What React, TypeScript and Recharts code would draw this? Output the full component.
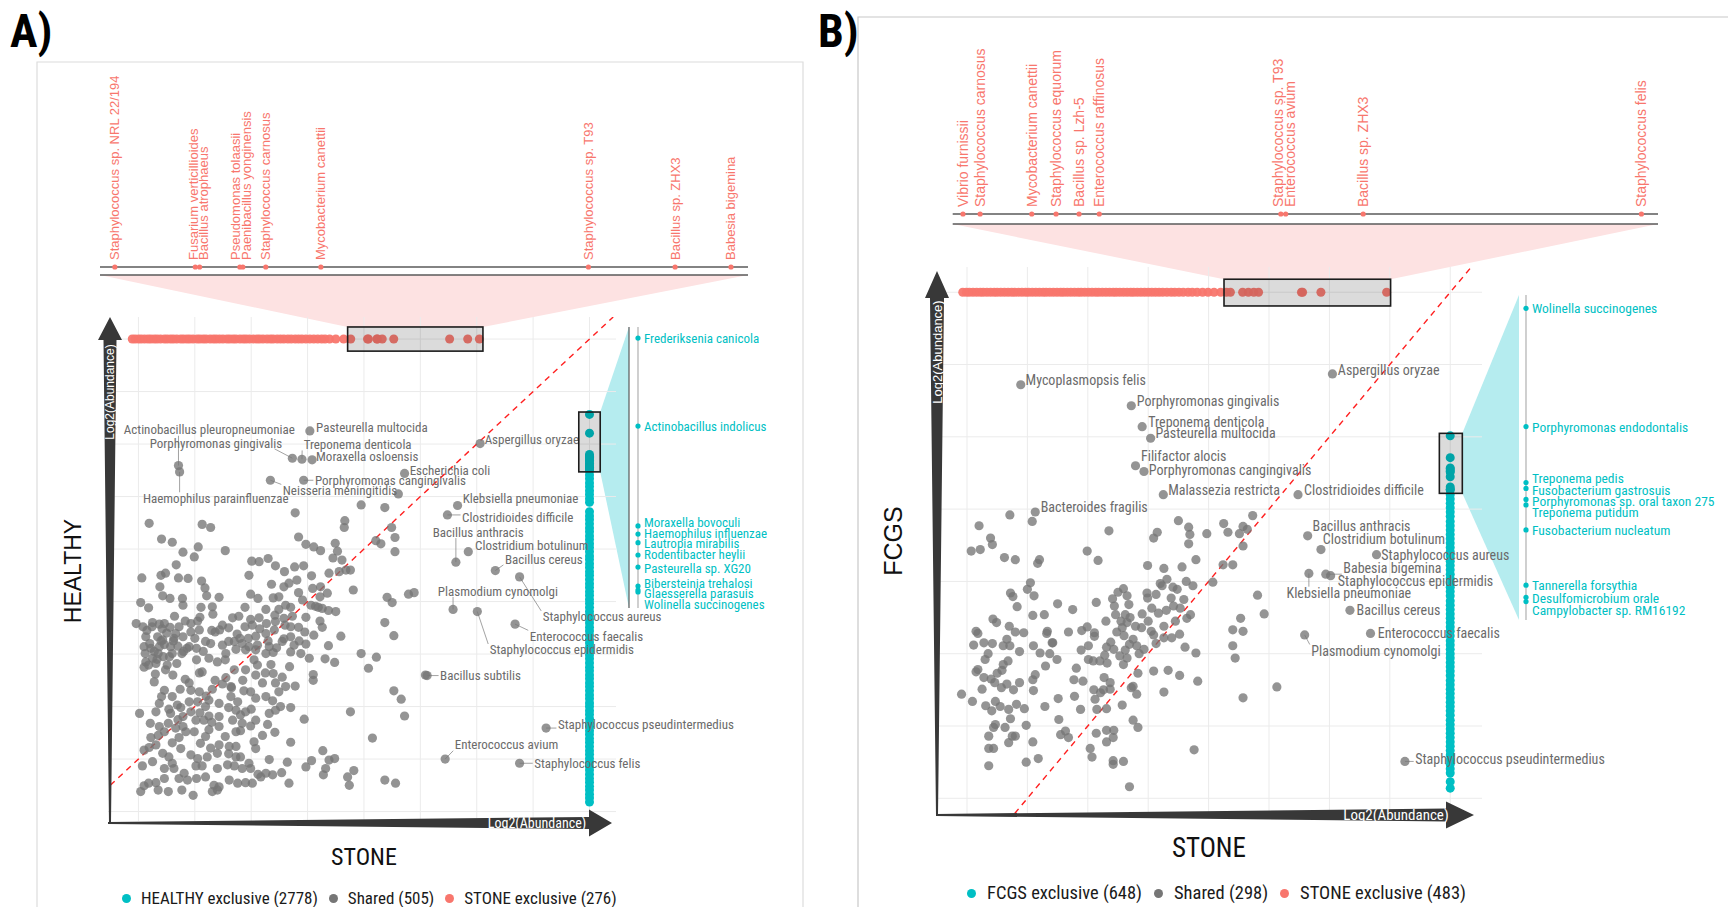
import React from "react";
import {
  ScatterChart,
  Scatter,
  XAxis,
  YAxis,
  CartesianGrid,
  ReferenceLine,
  Legend,
} from "recharts";

const CYAN = "#00BFC4";
const RED = "#F8766D";
const GREY = "#767676";
const NARROW = "'Liberation Sans Narrow', 'Arial Narrow', 'Roboto Condensed', sans-serif";
const SANS = "'Liberation Sans', Arial, Helvetica, sans-serif";

type Pt = [number, number];
type Tag = { name: string; v: number };
type Note = { name: string; x: number; y: number };

// ---------------- Panel A : HEALTHY vs STONE (log2 abundance) ----------------

const gridXA = [1, 2, 3, 4, 5, 6, 7, 8, 9];
const gridYA = [1, 2, 3, 4, 5, 6, 7, 8, 9, 10];
const stoneRowLevelA = 10; // STONE-exclusive taxa sit on the top row
const healthyColLevelA = 9; // HEALTHY-exclusive taxa sit in the right column
const diagA: Pt[] = [[0.5, 1.5], [9.42, 10.42]];

const sharedA: Pt[] = [
  [5.61,7.05],[4.95,6.84],[5.37,6.79],[3.78,6.69],[1.19,6.49],[2.13,6.47],[2.28,6.41],[4.66,6.54],[4.65,6.41],[5.49,6.41],[5.55,6.22],
  [1.41,6.19],[1.6,6.13],[2.06,6.04],[3.84,6.23],[3.97,6.09],[4.11,6.04],[4.23,5.97],[4.49,6.11],[4.53,5.96],[5.21,6.16],[5.3,6.1],[5.55,5.95],[2.54,5.97],[1.79,5.94],[1.99,5.85],
  [3.01,5.77],[3.14,5.76],[3.3,5.82],[3.43,5.68],[3.59,5.57],[3.77,5.66],[3.93,5.68],[1.67,5.7],[4.45,5.83],[4.61,5.79],[4.68,5.6],[4.56,5.57],[4.76,5.6],[4.38,5.54],[2.96,5.5],[1.4,5.5],[1.48,5.54],[1.06,5.45],[1.71,5.45],[1.88,5.44],[4.07,5.49],
  [2.12,5.39],[2.18,5.26],[2.21,5.11],[2.43,5.08],[1.38,5.28],[1.43,5.11],[1.56,5.06],[1.78,5.06],[3.36,5.33],[3.58,5.28],[3.67,5.35],[3.81,5.41],[3.84,5.17],[4.09,5.25],[4.23,5.28],[4.81,5.22],[4.35,5.16],[4.22,5.09],[5.41,5.08],[5.5,4.98],[5.79,5.14],[5.89,5.17],[2.99,5.14],[3.12,5.06],[3.39,5.07],[3.49,5.09],
  [1.04,4.98],[1.18,4.88],[1.79,4.93],[2.11,4.89],[2.31,4.9],[2.32,4.76],[2.89,4.89],[3.26,4.85],[3.49,4.85],[3.61,4.93],[3.7,4.89],[3.91,5.03],[4.06,4.93],[4.14,4.91],[4.19,4.89],[4.26,4.87],[4.37,4.83],[4.5,4.81],[1.64,4.72],[1.83,4.63],[1.93,4.58],[2.05,4.63],[2.09,4.7],[2.67,4.69],[2.78,4.72],[2.99,4.66],[3.14,4.69],[3.42,4.74],[3.58,4.68],[3.73,4.72],[3.97,4.7],[4.22,4.63],[0.96,4.58],[1.08,4.52],[1.24,4.52],[1.37,4.57],[1.46,4.58],[1.56,4.51],[1.72,4.52],
  [2.44,4.46],[2.36,4.42],[2.49,4.55],[2.89,4.52],[3.02,4.55],[3.27,4.58],[3.43,4.62],[3.7,4.52],[3.84,4.51],[4.11,4.36],[4.26,4.51],[4.59,4.34],[5.37,4.6],[5.53,4.35],[1.13,4.33],[1.34,4.33],[1.43,4.27],[1.66,4.39],[1.63,4.3],[1.79,4.33],[1.93,4.42],[2.08,4.46],[2.6,4.24],[2.7,4.24],[2.8,4.3],[3.08,4.34],[3.26,4.39],[3.41,4.46],[3.58,4.29],[3.7,4.33],[3.76,4.17],[1.1,4.14],[1.22,4.11],[1.37,4.14],[1.46,4.18],[1.57,4.14],[1.9,4.14],[2.03,4.11],[2.19,4.24],[2.28,4.2],[2.49,4.17],[2.84,4.2],[2.96,4.14],[3.11,4.17],[3.32,4.14],[3.55,4.24],[3.97,4.19],[4.37,4.16],
  [1.12,4.01],[1.25,3.92],[1.35,4.01],[1.44,3.95],[1.31,3.82],[1.6,4.01],[1.77,4.01],[1.86,4.11],[2.55,4.01],[2.73,4.09],[2.9,4.08],[3.08,4.08],[3.26,4.01],[3.39,4.03],[3.7,4.04],[3.88,4.01],[4.03,3.92],[4.31,3.91],[4.48,3.84],[4.95,4.01],[5.22,3.94],[5.08,3.73],[1.13,3.85],[1.18,3.79],[1.51,3.79],[2.03,3.89],[2.25,3.92],[2.54,3.89],[3.05,3.89],[3.11,3.79],[3.68,3.76],[2.9,3.7],[2.7,3.7],[6.09,3.6],
  [1.61,3.6],[1.28,3.47],[1.83,3.52],[2.08,3.64],[2.13,3.66],[2.36,3.5],[2.49,3.43],[2.65,3.36],[3.08,3.6],[3.25,3.64],[3.39,3.63],[3.55,3.56],[3.61,3.38],[3.78,3.39],[4.1,3.61],[4.1,3.5],[1.46,3.31],[1.74,3.33],[1.93,3.31],[2.08,3.28],[2.31,3.33],[2.64,3.38],[2.87,3.3],[2.99,3.28],[3.49,3.28],[5.53,3.3],[5.66,3.14],[3.43,3.45],
  [1.41,3.19],[1.37,3.06],[1.6,3.19],[1.69,3.03],[1.75,2.98],[1.54,2.95],[1.9,3.09],[2.05,3.09],[2.19,3.0],[2.25,3.12],[2.43,3.06],[2.64,3.19],[2.76,3.09],[2.9,2.9],[3.08,3.16],[3.26,3.19],[3.38,3.11],[3.52,3.0],[3.7,2.98],[1.02,2.87],[1.31,2.9],[1.57,2.87],[1.79,2.81],[1.93,2.9],[2.09,2.88],[2.25,2.82],[2.43,2.81],[2.73,2.93],[2.81,2.84],[3.32,2.87],[3.43,2.93],[3.94,2.76],[4.76,2.9],[5.72,2.82],
  [1.21,2.68],[1.37,2.62],[1.53,2.68],[1.79,2.62],[2.02,2.74],[2.16,2.74],[2.25,2.56],[2.43,2.62],[2.67,2.74],[2.84,2.68],[2.99,2.63],[3.08,2.74],[3.29,2.66],[1.22,2.41],[1.46,2.52],[1.66,2.59],[1.84,2.52],[1.6,2.31],[1.72,2.41],[1.99,2.52],[2.19,2.43],[2.54,2.43],[2.73,2.52],[2.81,2.54],[3.42,2.51],[5.15,2.4],[3.7,2.32],
  [1.1,2.17],[1.19,2.22],[1.31,2.27],[2.28,2.21],[2.43,2.27],[2.61,2.24],[2.73,2.24],[3.05,2.33],[3.08,2.2],[1.43,2.11],[1.54,2.04],[1.6,1.92],[1.93,2.08],[2.05,2.01],[2.22,2.04],[2.4,2.11],[2.73,2.04],[2.81,2.04],[2.96,1.92],[3.32,1.99],[3.64,1.94],[4.07,1.97],[4.27,2.16],[4.38,1.98],[4.48,2.01],[1.07,1.87],[1.25,1.95],
  [1.46,1.82],[1.63,1.82],[1.81,1.73],[2.02,1.87],[2.13,1.87],[2.4,1.82],[2.58,1.89],[2.7,1.87],[2.84,1.82],[2.99,1.82],[3.12,1.71],[3.26,1.73],[3.38,1.7],[3.54,1.74],[3.97,1.85],[4.28,1.7],[4.32,1.82],[4.71,1.66],[4.82,1.78],[5.37,1.6],[5.56,1.54],[4.74,1.5],[3.67,1.54],[1.1,1.49],[1.31,1.55],[1.18,1.54],[1.46,1.63],[1.72,1.63],[1.87,1.6],[2.03,1.63],[2.19,1.66],[2.34,1.5],[2.43,1.47],[2.61,1.6],[2.76,1.54],[2.9,1.55],[3.02,1.54],[3.17,1.66],[1.04,1.38],[1.35,1.41],[1.53,1.38],[1.77,1.41],[1.97,1.31],[2.31,1.38],[2.4,1.41],
  [1.15,4.45],[1.2,4.2],[1.28,4.05],[1.33,3.9],[1.4,4.25],[1.5,4.4],[1.55,3.95],[1.62,4.25],[1.7,4.15],[1.25,4.6],[1.42,4.48],[1.1,3.75],[1.3,3.62],[1.48,3.7],[1.68,3.82],[1.8,4.05],[2.0,4.3],[2.15,4.05],[2.3,4.45],[2.6,4.5],[2.75,4.38],[2.95,4.3],[3.15,4.48],[3.3,4.25],[3.45,4.12],[3.6,4.55],[3.85,4.25],[3.95,4.42],[2.4,3.85],[2.55,3.55],[2.85,3.5],[3.2,3.45],[3.35,3.8],[1.9,3.45],[2.2,3.2],[2.6,2.98],[3.0,2.95],[1.7,2.75],[2.3,2.7],[1.35,2.45],[2.1,2.3],[2.6,2.1],[1.75,2.2],[3.2,2.45],
];

const notesA: Note[] = [
  { name: "Actinobacillus pleuropneumoniae", x: 1.71, y: 7.59 },
  { name: "Haemophilus parainfluenzae", x: 1.73, y: 7.47 },
  { name: "Porphyromonas gingivalis", x: 3.73, y: 7.73 },
  { name: "Treponema denticola", x: 3.9, y: 7.71 },
  { name: "Moraxella osloensis", x: 4.08, y: 7.7 },
  { name: "Pasteurella multocida", x: 4.04, y: 8.25 },
  { name: "Porphyromonas cangingivalis", x: 3.93, y: 7.31 },
  { name: "Neisseria meningitidis", x: 3.34, y: 7.31 },
  { name: "Escherichia coli", x: 5.72, y: 7.44 },
  { name: "Aspergillus oryzae", x: 7.06, y: 8.01 },
  { name: "Klebsiella pneumoniae", x: 6.66, y: 6.83 },
  { name: "Clostridioides difficile", x: 6.48, y: 6.65 },
  { name: "Bacillus anthracis", x: 6.63, y: 5.75 },
  { name: "Clostridium botulinum", x: 6.85, y: 5.95 },
  { name: "Bacillus cereus", x: 7.33, y: 5.59 },
  { name: "Staphylococcus aureus", x: 7.76, y: 5.47 },
  { name: "Plasmodium cynomolgi", x: 6.58, y: 4.85 },
  { name: "Staphylococcus epidermidis", x: 7.01, y: 4.81 },
  { name: "Enterococcus faecalis", x: 7.68, y: 4.57 },
  { name: "Bacillus subtilis", x: 6.12, y: 3.59 },
  { name: "Staphylococcus pseudintermedius", x: 8.23, y: 2.59 },
  { name: "Enterococcus avium", x: 6.44, y: 2.0 },
  { name: "Staphylococcus felis", x: 7.76, y: 1.92 },
];
// where ggrepel put each text (start of the text, middle height)
const noteTextAtA: Pt[] = [
  [0.74, 8.27], [1.08, 6.97], [1.2, 8.02], [3.93, 7.99], [4.15, 7.77], [4.15, 8.32],
  [4.13, 7.31], [3.56, 7.12], [5.81, 7.49], [7.14, 8.08], [6.75, 6.97], [6.74, 6.61],
  [6.22, 6.32], [6.97, 6.06], [7.5, 5.81], [8.17, 4.71], [6.31, 5.2], [7.23, 4.08],
  [7.94, 4.34], [6.35, 3.6], [8.44, 2.65], [6.61, 2.27], [8.02, 1.91],
];

const stoneRowA = [
  0.89,0.94,1.0,1.05,1.11,1.17,1.22,1.28,1.33,1.39,1.46,1.51,1.57,1.62,1.68,1.75,1.8,1.86,1.91,1.97,
  2.04,2.09,2.15,2.2,2.27,2.33,2.38,2.44,2.5,2.57,2.62,2.68,2.73,2.8,2.86,2.91,2.97,3.04,3.1,3.15,
  3.21,3.28,3.34,3.39,3.46,3.52,3.58,3.65,3.71,3.78,3.84,3.9,3.97,4.04,4.11,4.18,4.25,4.31,4.39,4.5,4.64,
];
const stoneTagsA: Tag[] = [
  { name: "Staphylococcus sp. NRL 22/194", v: 4.765 },
  { name: "Fusarium verticillioides", v: 5.063 },
  { name: "Bacillus atrophaeus", v: 5.079 },
  { name: "Pseudomonas tolaasii", v: 5.228 },
  { name: "Paenibacillus yonginensis", v: 5.239 },
  { name: "Staphylococcus carnosus", v: 5.324 },
  { name: "Mycobacterium canettii", v: 5.528 },
  { name: "Staphylococcus sp. T93", v: 6.519 },
  { name: "Bacillus sp. ZHX3", v: 6.84 },
  { name: "Babesia bigemina", v: 7.047 },
];
const stoneTagTextAtA = [4.765, 5.057, 5.093, 5.21, 5.252, 5.324, 5.528, 6.519, 6.84, 7.047];

const healthyColA = [
  1.18,1.26,1.33,1.41,1.48,1.56,1.63,1.71,1.79,1.86,1.94,2.01,2.09,2.16,2.24,2.32,2.39,2.47,2.54,2.62,
  2.69,2.77,2.85,2.92,3.0,3.07,3.15,3.22,3.3,3.38,3.45,3.53,3.6,3.68,3.75,3.83,3.91,3.98,4.06,4.13,
  4.21,4.28,4.36,4.44,4.51,4.59,4.66,4.74,4.81,4.89,4.97,5.04,5.12,5.19,5.27,5.34,5.42,5.5,5.57,5.65,
  5.72,5.8,5.87,5.95,6.03,6.1,6.18,6.25,6.33,6.4,6.48,6.56,6.63,6.71,6.89,6.96,7.04,7.11,7.19,7.26,
  7.34,7.41,7.49,7.6,7.68,7.75,
];
const healthyTagsA: Tag[] = [
  { name: "Frederiksenia canicola", v: 8.565 },
  { name: "Actinobacillus indolicus", v: 8.208 },
  { name: "Moraxella bovoculi", v: 7.803 },
  { name: "Haemophilus influenzae", v: 7.77 },
  { name: "Lautropia mirabilis", v: 7.735 },
  { name: "Rodentibacter heylii", v: 7.685 },
  { name: "Pasteurella sp. XG20", v: 7.636 },
  { name: "Bibersteinia trehalosi", v: 7.559 },
  { name: "Glaesserella parasuis", v: 7.543 },
  { name: "Wolinella succinogenes", v: 7.535 },
];
const healthyTagTextAtA = [8.565, 8.208, 7.818, 7.774, 7.73, 7.686, 7.632, 7.57, 7.528, 7.486];

const legendA = [
  { label: "HEALTHY exclusive (2778)", color: CYAN },
  { label: "Shared (505)", color: GREY },
  { label: "STONE exclusive (276)", color: RED },
];

// ---------------- Panel B : FCGS vs STONE ----------------

const gridXB = [1, 2, 3, 4, 5, 6, 7, 8, 9];
const gridYB = [1, 2, 3, 4, 5, 6, 7, 8];
const stoneRowLevelB = 8;
const fcgsColLevelB = 9;
const diagB: Pt[] = [[1.79, 0.79], [9.45, 8.45]];

const sharedB: Pt[] = [
  [1.71,4.92],[2.08,4.83],[1.2,4.77],[1.39,4.6],[1.42,4.51],[1.07,4.42],[1.22,4.44],[1.62,4.33],[1.8,4.3],[2.2,4.3],[2.17,4.25],[2.99,4.42],[3.17,4.29],[3.35,4.7],[4.5,4.84],[4.67,4.75],[4.69,4.65],[4.67,4.52],[4.97,4.66],[4.09,4.6],[4.15,4.68],[5.25,4.8],[5.32,4.68],[5.51,4.66],[5.57,4.76],[5.64,4.72],[5.73,4.91],[5.57,4.49],[4.79,4.3],[4.56,4.2],[4.26,4.18],[3.99,4.22],[5.24,4.23],[5.4,4.23],
  [2.05,3.98],[2.0,3.89],[2.11,3.8],[1.72,3.84],[1.76,3.79],[1.83,3.65],[2.5,3.69],[2.75,3.61],[3.14,3.71],[3.41,3.76],[3.59,3.9],[3.65,3.8],[3.68,3.68],[3.44,3.66],[3.46,3.54],[3.62,3.54],[4.2,3.97],[4.31,4.03],[4.23,3.94],[4.41,3.92],[4.48,3.89],[4.63,4.0],[4.74,3.94],[5.07,3.99],[3.98,3.84],[4.13,3.82],[3.99,3.77],[4.38,3.77],[4.59,3.75],[4.06,3.63],[4.17,3.56],[4.42,3.66],[4.53,3.63],[4.7,3.54],[4.64,3.49],[5.81,3.81],[5.92,3.55],[5.53,3.49],
  [1.15,3.31],[1.18,3.28],[1.43,3.48],[1.49,3.43],[1.7,3.38],[1.8,3.3],[1.94,3.29],[2.09,3.53],[2.28,3.54],[2.33,3.31],[2.32,3.28],[2.42,3.15],[2.68,3.3],[2.9,3.32],[2.99,3.37],[3.11,3.29],[3.11,3.24],[3.31,3.09],[3.48,3.3],[3.57,3.36],[3.65,3.43],[3.79,3.38],[3.89,3.36],[4.05,3.31],[4.09,3.26],[4.26,3.38],[4.26,3.22],[4.39,3.22],[4.52,3.27],[5.4,3.33],[5.57,3.31],[1.11,3.12],[1.28,3.15],[1.42,3.14],[1.6,3.11],[1.66,3.2],[1.71,3.11],[1.87,3.03],[2.1,3.11],[2.21,3.01],[2.41,3.15],[3.01,3.11],[2.89,3.05],[3.38,3.16],[3.43,3.06],[3.69,3.13],[3.81,3.11],[3.93,3.06],[4.13,3.14],[4.61,3.09],[4.79,3.01],[5.4,3.11],
  [1.3,2.92],[1.18,2.78],[1.15,2.75],[1.28,2.67],[1.4,2.65],[1.5,2.73],[1.58,2.77],[1.68,2.9],[2.37,3.0],[2.49,2.92],[2.3,2.83],[2.13,2.71],[2.09,2.64],[1.87,2.6],[2.81,2.8],[2.77,2.64],[2.92,2.62],[3.01,2.92],[3.09,2.9],[3.2,2.9],[3.28,2.98],[3.32,2.87],[3.59,2.85],[3.65,2.94],[3.83,2.73],[4.09,2.76],[4.33,2.77],[4.52,2.7],[4.82,2.62],[5.44,2.94],[3.27,2.67],[3.37,2.6],
  [0.91,2.44],[1.09,2.34],[1.25,2.51],[1.46,2.6],[1.57,2.53],[1.66,2.58],[1.77,2.5],[2.1,2.49],[2.51,2.38],[2.78,2.41],[3.1,2.5],[3.12,2.37],[3.21,2.46],[3.26,2.5],[3.37,2.51],[3.57,2.29],[3.72,2.53],[3.81,2.44],[4.26,2.47],[5.57,2.39],[1.31,2.28],[1.41,2.21],[1.47,2.34],[1.55,2.27],[1.69,2.23],[1.82,2.3],[1.95,2.24],[2.29,2.27],[2.88,2.23],[3.15,2.23],[3.31,2.24],[3.75,2.55],
  [2.52,2.09],[2.63,1.93],[2.68,1.84],[2.55,1.88],[1.47,2.02],[1.44,1.98],[1.63,1.98],[1.72,2.1],[1.8,1.86],[1.75,1.86],[1.36,1.86],[1.98,2.01],[3.14,1.9],[3.31,1.94],[3.43,1.94],[3.42,1.84],[3.31,1.78],[3.75,2.08],[3.83,1.98],[2.09,1.78],[1.69,1.77],
  [1.36,1.69],[1.44,1.69],[1.36,1.45],[1.98,1.5],[2.18,1.55],[3.04,1.69],[3.07,1.57],[3.42,1.52],[3.42,1.47],[3.59,1.51],[3.69,1.16],[4.76,1.67],[6.13,2.54],
  [3.55,3.45],[3.6,3.25],[3.7,3.5],[3.75,3.2],[3.62,3.05],[3.53,2.97],[4.0,3.45],[3.9,3.55],[3.5,3.85],[4.3,3.6],[4.45,3.45],[1.35,3.0],[1.6,2.85],[3.3,3.45],[3.85,3.0],
];

const notesB: Note[] = [
  { name: "Mycoplasmopsis felis", x: 1.89, y: 6.72 },
  { name: "Porphyromonas gingivalis", x: 3.72, y: 6.43 },
  { name: "Treponema denticola", x: 3.9, y: 6.14 },
  { name: "Pasteurella multocida", x: 4.04, y: 5.98 },
  { name: "Filifactor alocis", x: 3.79, y: 5.6 },
  { name: "Porphyromonas cangingivalis", x: 3.93, y: 5.52 },
  { name: "Malassezia restricta", x: 4.25, y: 5.2 },
  { name: "Clostridioides difficile", x: 6.48, y: 5.2 },
  { name: "Aspergillus oryzae", x: 7.05, y: 6.87 },
  { name: "Bacteroides fragilis", x: 2.13, y: 4.96 },
  { name: "Bacillus anthracis", x: 6.64, y: 4.63 },
  { name: "Clostridium botulinum", x: 6.86, y: 4.44 },
  { name: "Staphylococcus aureus", x: 7.78, y: 4.37 },
  { name: "Babesia bigemina", x: 6.94, y: 4.1 },
  { name: "Staphylococcus epidermidis", x: 7.02, y: 4.08 },
  { name: "Klebsiella pneumoniae", x: 6.66, y: 4.11 },
  { name: "Bacillus cereus", x: 7.34, y: 3.6 },
  { name: "Enterococcus faecalis", x: 7.68, y: 3.28 },
  { name: "Plasmodium cynomolgi", x: 6.59, y: 3.26 },
  { name: "Staphylococcus pseudintermedius", x: 8.25, y: 1.51 },
];
const noteTextAtB: Pt[] = [
  [1.97, 6.79], [3.81, 6.5], [4.0, 6.21], [4.12, 6.05], [3.88, 5.73], [4.01, 5.54],
  [4.33, 5.26], [6.58, 5.26], [7.14, 6.92], [2.22, 5.03], [6.72, 4.76], [6.89, 4.59],
  [7.86, 4.37], [7.23, 4.18], [7.14, 4.0], [6.29, 3.84], [7.45, 3.6], [7.8, 3.29],
  [6.7, 3.04], [8.42, 1.54],
];

const stoneRowB = [
  0.93,0.99,1.04,1.1,1.16,1.22,1.27,1.33,1.39,1.45,1.5,1.56,1.62,1.68,1.74,1.79,1.85,1.91,1.97,2.02,
  2.08,2.14,2.2,2.26,2.31,2.37,2.43,2.49,2.55,2.6,2.66,2.72,2.78,2.84,2.89,2.95,3.01,3.07,3.13,3.18,
  3.24,3.3,3.36,3.42,3.47,3.53,3.59,3.65,3.71,3.76,3.82,3.88,3.94,4.0,4.06,4.12,4.18,4.24,4.31,4.38,
  4.44,4.51,4.58,4.66,4.73,4.81,4.9,4.99,5.09,5.2,
];
const stoneTagsB: Tag[] = [
  { name: "Vibrio furnissii", v: 5.294 },
  { name: "Staphylococcus carnosus", v: 5.361 },
  { name: "Mycobacterium canettii", v: 5.563 },
  { name: "Staphylococcus equorum", v: 5.658 },
  { name: "Bacillus sp. Lzh-5", v: 5.748 },
  { name: "Enterococcus raffinosus", v: 5.827 },
  { name: "Staphylococcus sp. T93", v: 6.537 },
  { name: "Enterococcus avium", v: 6.556 },
  { name: "Bacillus sp. ZHX3", v: 6.859 },
  { name: "Staphylococcus felis", v: 7.947 },
];
const stoneTagTextAtB = [5.294, 5.361, 5.563, 5.658, 5.748, 5.827, 6.525, 6.571, 6.859, 7.947];

const fcgsColB = [
  1.14,1.23,1.35,1.41,1.47,1.53,1.6,1.66,1.72,1.78,1.84,1.9,1.96,2.02,2.08,2.15,2.21,2.27,2.33,2.39,
  2.45,2.51,2.57,2.63,2.7,2.76,2.82,2.88,2.94,3.0,3.06,3.12,3.18,3.25,3.31,3.37,3.43,3.49,3.55,3.61,
  3.67,3.73,3.8,3.86,3.92,3.98,4.04,4.1,4.16,4.22,4.28,4.35,4.41,4.47,4.53,4.59,4.65,4.71,4.77,4.83,
  4.9,4.96,5.02,5.08,5.14,5.2,
];
const fcgsTagsB: Tag[] = [
  { name: "Wolinella succinogenes", v: 6.014 },
  { name: "Porphyromonas endodontalis", v: 5.712 },
  { name: "Treponema pedis", v: 5.569 },
  { name: "Fusobacterium gastrosuis", v: 5.554 },
  { name: "Porphyromonas sp. oral taxon 275", v: 5.526 },
  { name: "Treponema putidum", v: 5.512 },
  { name: "Fusobacterium nucleatum", v: 5.448 },
  { name: "Tannerella forsythia", v: 5.307 },
  { name: "Desulfomicrobium orale", v: 5.276 },
  { name: "Campylobacter sp. RM16192", v: 5.265 },
];
const fcgsTagTextAtB = [6.014, 5.712, 5.58, 5.551, 5.522, 5.493, 5.448, 5.307, 5.274, 5.243];

const legendB = [
  { label: "FCGS exclusive (648)", color: CYAN },
  { label: "Shared (298)", color: GREY },
  { label: "STONE exclusive (483)", color: RED },
];

// ---------------- layout ----------------

const panels = [
  {
    id: "A",
    letter: { text: "A)", x: 10, y: 47 },
    main: { left: 108, top: 317, width: 508, height: 504, extra: 165, x: [0.46, 9.47] as Pt, y: [0.82, 10.42] as Pt },
    redBox: { x: [4.71, 7.11] as Pt, y: [9.77, 10.23] as Pt },
    cyanBox: { x: [8.81, 9.19] as Pt, y: [7.47, 8.61] as Pt },
    strip: { left: 100, right: 748, dotY: 267, edgeY: 275, top: 40, font: 13 },
    side: { edgeX: 629, dotX: 638, top: 327, bottom: 608, font: 13, edgeLine: true, width: 180 },
    yArrow: { x: 110, tip: 317, base: 340, bottom: 823, head: 12, shaft: 6.5, textY: 392, font: 12 },
    xArrow: { y: 823, left: 108, base: 589, tip: 612, head: 13.5, shaft: 6, textX: 537, font: 14 },
    yTitle: { text: "HEALTHY", x: 73, y: 571, font: 23 },
    xTitle: { text: "STONE", x: 364, y: 857, font: 24 },
    noteFont: 13,
    legendPos: { left: 14, top: 571, font: 17, gap: 11 },
    gridX: gridXA, gridY: gridYA, diag: diagA,
    shared: sharedA, notes: notesA, noteTextAt: noteTextAtA,
    row: stoneRowA, rowLevel: stoneRowLevelA, rowTags: stoneTagsA, rowTagTextAt: stoneTagTextAtA,
    col: healthyColA, colLevel: healthyColLevelA, colTags: healthyTagsA, colTagTextAt: healthyTagTextAtA,
    legend: legendA,
  },
  {
    id: "B",
    letter: { text: "B)", x: 818, y: 47 },
    main: { left: 936, top: 267, width: 546, height: 548, extra: 235, x: [0.487, 9.526] as Pt, y: [0.769, 8.349] as Pt },
    redBox: { x: [5.255, 8.013] as Pt, y: [7.81, 8.18] as Pt },
    cyanBox: { x: [8.82, 9.2] as Pt, y: [5.218, 6.048] as Pt },
    strip: { left: 952.7, right: 1658, dotY: 214, edgeY: 224, top: 28, font: 14 },
    side: { edgeX: 1519, dotX: 1526, top: 295, bottom: 620, font: 13.5, edgeLine: false, width: 200 },
    yArrow: { x: 937, tip: 271, base: 298, bottom: 815, head: 12, shaft: 7, textY: 352, font: 13 },
    xArrow: { y: 815, left: 936, base: 1446, tip: 1474, head: 13.5, shaft: 6.5, textX: 1396, font: 15 },
    yTitle: { text: "FCGS", x: 893, y: 541, font: 25 },
    xTitle: { text: "STONE", x: 1209, y: 848, font: 27 },
    noteFont: 14,
    legendPos: { left: 31, top: 615, font: 18.5, gap: 12 },
    gridX: gridXB, gridY: gridYB, diag: diagB,
    shared: sharedB, notes: notesB, noteTextAt: noteTextAtB,
    row: stoneRowB, rowLevel: stoneRowLevelB, rowTags: stoneTagsB, rowTagTextAt: stoneTagTextAtB,
    col: fcgsColB, colLevel: fcgsColLevelB, colTags: fcgsTagsB, colTagTextAt: fcgsTagTextAtB,
    legend: legendB,
  },
];

type Panel = (typeof panels)[number];
type Main = Panel["main"];

const sx = (m: Main, v: number) => m.left + ((v - m.x[0]) / (m.x[1] - m.x[0])) * m.width;
const sy = (m: Main, v: number) => m.top + ((m.y[1] - v) / (m.y[1] - m.y[0])) * m.height;

const dot = (fill: string, r: number, opacity = 1) => (p: any) =>
  p.cx == null ? <g /> : <circle cx={p.cx} cy={p.cy} r={r} fill={fill} fillOpacity={opacity} />;

// leader segments from each annotated point to the nearest edge of its text
function leaders(p: Panel) {
  const m = p.main;
  const kx = m.width / (m.x[1] - m.x[0]);
  const ky = m.height / (m.y[1] - m.y[0]);
  const out: { key: string; a: { x: number; y: number }; b: { x: number; y: number } }[] = [];
  p.notes.forEach((n, i) => {
    const [lx, ly] = p.noteTextAt[i];
    const w = (n.name.length * p.noteFont * 0.4) / kx;
    const h = (p.noteFont * 0.45) / ky;
    const bx = Math.min(Math.max(n.x, lx - 1.5 / kx), lx + w);
    const by = Math.min(Math.max(n.y, ly - h), ly + h);
    const d = Math.hypot((bx - n.x) * kx, (by - n.y) * ky);
    if (d > 7) out.push({ key: n.name, a: { x: n.x, y: n.y }, b: { x: bx, y: by } });
  });
  return out;
}

function LegendRow({ items, font, gap }: { items: { label: string; color: string }[]; font: number; gap: number }) {
  return (
    <div style={{ display: "flex", alignItems: "center", whiteSpace: "nowrap", fontFamily: NARROW, fontSize: font, color: "#1a1a1a" }}>
      {items.map((it) => (
        <span key={it.label} style={{ display: "flex", alignItems: "center", marginRight: gap }}>
          <span style={{ width: 9, height: 9, borderRadius: "50%", background: it.color, display: "inline-block", marginRight: gap - 1 }} />
          {it.label}
        </span>
      ))}
    </div>
  );
}

function MainPlot({ p }: { p: Panel }) {
  const m = p.main;
  const colData = [...p.col, ...p.colTags.map((t) => t.v)].map((y) => ({ x: p.colLevel, y }));
  const rowData = [...p.row, ...p.rowTags.map((t) => t.v)].map((x) => ({ x, y: p.rowLevel }));
  const sharedData = [...p.shared, ...p.notes.map((n) => [n.x, n.y] as Pt)].map(([x, y]) => ({ x, y }));
  const textData = p.notes.map((n, i) => ({ x: p.noteTextAt[i][0], y: p.noteTextAt[i][1], name: n.name }));
  const segs = leaders(p);
  const lg = p.legendPos;
  return (
    <div style={{ position: "absolute", left: m.left, top: m.top }}>
      <ScatterChart width={m.width + m.extra} height={m.height} margin={{ top: 0, right: m.extra, bottom: 0, left: 0 }}>
        <XAxis type="number" dataKey="x" domain={m.x} ticks={p.gridX} hide />
        <YAxis type="number" dataKey="y" domain={m.y} ticks={p.gridY} hide />
        <CartesianGrid stroke="#ebebeb" verticalValues={p.gridX} horizontalValues={p.gridY} />
        <Scatter name={p.legend[0].label} data={colData} fill={CYAN} shape={dot(CYAN, 4.5)} isAnimationActive={false} />
        <Scatter name={p.legend[1].label} data={sharedData} fill={GREY} shape={dot(GREY, 4.6, 0.78)} isAnimationActive={false} />
        <Scatter name={p.legend[2].label} data={rowData} fill={RED} shape={dot(RED, 4.5, 0.95)} isAnimationActive={false} />
        {segs.map((s) => (
          <ReferenceLine key={s.key} segment={[s.a, s.b]} stroke="#8a8a8a" strokeWidth={0.8} ifOverflow="visible" />
        ))}
        <ReferenceLine
          segment={[{ x: p.diag[0][0], y: p.diag[0][1] }, { x: p.diag[1][0], y: p.diag[1][1] }]}
          stroke="#ff1f1f"
          strokeWidth={1.4}
          strokeDasharray="6 5"
          ifOverflow="visible"
        />
        <Scatter
          data={textData}
          legendType="none"
          isAnimationActive={false}
          shape={(q: any) => (
            <text x={q.cx} y={q.cy} fontSize={p.noteFont} fontFamily={NARROW} fill="#6b6b6b" dominantBaseline="central">
              {q.payload.name}
            </text>
          )}
        />
        <Legend
          layout="horizontal"
          verticalAlign="middle"
          align="center"
          wrapperStyle={{ left: lg.left, top: lg.top, width: "auto", height: "auto" }}
          content={() => <LegendRow items={p.legend} font={lg.font} gap={lg.gap} />}
        />
      </ScatterChart>
    </div>
  );
}

function TopStrip({ p }: { p: Panel }) {
  const s = p.strip;
  const h = s.dotY + 8 - s.top;
  const dots = p.rowTags.map((t) => ({ x: t.v, y: 0 }));
  const texts = p.rowTags.map((t, i) => ({ x: p.rowTagTextAt[i], y: 0, name: t.name }));
  return (
    <div style={{ position: "absolute", left: s.left, top: s.top }}>
      <ScatterChart width={s.right - s.left} height={h} margin={{ top: h - 16, right: 0, bottom: 0, left: 0 }}>
        <XAxis type="number" dataKey="x" domain={p.redBox.x} hide />
        <YAxis type="number" dataKey="y" domain={[-1, 1]} hide />
        <Scatter data={dots} shape={dot(RED, 2.6)} isAnimationActive={false} />
        <Scatter
          data={texts}
          isAnimationActive={false}
          shape={(q: any) => (
            <text
              x={q.cx}
              y={q.cy - 7}
              transform={`rotate(-90 ${q.cx} ${q.cy - 7})`}
              fontSize={s.font}
              fontFamily={SANS}
              fill={RED}
              dominantBaseline="central"
            >
              {q.payload.name}
            </text>
          )}
        />
      </ScatterChart>
    </div>
  );
}

function SideStrip({ p }: { p: Panel }) {
  const s = p.side;
  const pad = 14;
  const dots = p.colTags.map((t) => ({ x: 0, y: t.v }));
  const texts = p.colTags.map((t, i) => ({ x: 0, y: p.colTagTextAt[i], name: t.name }));
  return (
    <div style={{ position: "absolute", left: s.dotX - 8, top: s.top - pad }}>
      <ScatterChart width={s.width} height={s.bottom - s.top + 2 * pad} margin={{ top: pad, right: s.width - 16, bottom: pad, left: 0 }}>
        <XAxis type="number" dataKey="x" domain={[-1, 1]} hide />
        <YAxis type="number" dataKey="y" domain={p.cyanBox.y} hide />
        <Scatter data={dots} shape={dot(CYAN, 2.6)} isAnimationActive={false} />
        <Scatter
          data={texts}
          isAnimationActive={false}
          shape={(q: any) => (
            <text x={q.cx + 6} y={q.cy} fontSize={s.font} fontFamily={NARROW} fill={CYAN} dominantBaseline="central">
              {q.payload.name}
            </text>
          )}
        />
      </ScatterChart>
    </div>
  );
}

function Underlay({ p }: { p: Panel }) {
  const m = p.main;
  const s = p.strip;
  const sd = p.side;
  const bx0 = sx(m, p.redBox.x[0]);
  const bx1 = sx(m, p.redBox.x[1]);
  const by0 = sy(m, p.redBox.y[1]);
  const cx1 = sx(m, p.cyanBox.x[1]);
  const cy0 = sy(m, p.cyanBox.y[1]);
  const cy1 = sy(m, p.cyanBox.y[0]);
  return (
    <g>
      <polygon points={`${s.left},${s.edgeY} ${s.right},${s.edgeY} ${bx1},${by0} ${bx0},${by0}`} fill="#fde2e2" />
      <polygon points={`${cx1},${cy0} ${sd.edgeX},${sd.top} ${sd.edgeX},${sd.bottom} ${cx1},${cy1}`} fill="#b5ecef" />
      <line x1={s.left} x2={s.right} y1={s.dotY} y2={s.dotY} stroke="#5a5a5a" strokeWidth={1.4} />
      <line x1={s.left} x2={s.right} y1={s.edgeY} y2={s.edgeY} stroke="#5a5a5a" strokeWidth={1.4} />
      {sd.edgeLine && <line x1={sd.edgeX} x2={sd.edgeX} y1={sd.top} y2={sd.bottom} stroke="#5a5a5a" strokeWidth={1.2} />}
      <line x1={sd.dotX} x2={sd.dotX} y1={sd.top} y2={sd.bottom} stroke="#b0b0b0" strokeWidth={1.2} />
    </g>
  );
}

function Overlay({ p }: { p: Panel }) {
  const m = p.main;
  const ya = p.yArrow;
  const xa = p.xArrow;
  const rb = p.redBox;
  const cb = p.cyanBox;
  const boxStyle = { fill: "rgba(0,0,0,0.14)", stroke: "#1c1c1c", strokeWidth: 1.6 };
  return (
    <g>
      <rect x={sx(m, rb.x[0])} y={sy(m, rb.y[1])} width={sx(m, rb.x[1]) - sx(m, rb.x[0])} height={sy(m, rb.y[0]) - sy(m, rb.y[1])} {...boxStyle} />
      <rect x={sx(m, cb.x[0])} y={sy(m, cb.y[1])} width={sx(m, cb.x[1]) - sx(m, cb.x[0])} height={sy(m, cb.y[0]) - sy(m, cb.y[1])} {...boxStyle} />
      <polygon
        points={`${ya.x - 1},${ya.bottom} ${ya.x + 1},${ya.bottom} ${ya.x + ya.shaft},${ya.base} ${ya.x + ya.head},${ya.base} ${ya.x},${ya.tip} ${ya.x - ya.head},${ya.base} ${ya.x - ya.shaft},${ya.base}`}
        fill="#383838"
      />
      <text x={ya.x} y={ya.textY} transform={`rotate(-90 ${ya.x} ${ya.textY})`} textAnchor="middle" dominantBaseline="central" fill="#fff" fontSize={ya.font} fontFamily={SANS}>
        Log2(Abundance)
      </text>
      <polygon
        points={`${xa.left},${xa.y - 1} ${xa.base},${xa.y - xa.shaft} ${xa.base},${xa.y - xa.head} ${xa.tip},${xa.y} ${xa.base},${xa.y + xa.head} ${xa.base},${xa.y + xa.shaft} ${xa.left},${xa.y + 1}`}
        fill="#383838"
      />
      <text x={xa.textX} y={xa.y} textAnchor="middle" dominantBaseline="central" fill="#fff" fontSize={xa.font} fontFamily={NARROW}>
        Log2(Abundance)
      </text>
      <text x={p.yTitle.x} y={p.yTitle.y} transform={`rotate(-90 ${p.yTitle.x} ${p.yTitle.y})`} textAnchor="middle" dominantBaseline="central" fontSize={p.yTitle.font} fontFamily={SANS} fill="#111">
        {p.yTitle.text}
      </text>
      <text x={p.xTitle.x} y={p.xTitle.y} textAnchor="middle" dominantBaseline="central" fontSize={p.xTitle.font} fontFamily={NARROW} fill="#111">
        {p.xTitle.text}
      </text>
      <text x={p.letter.x} y={p.letter.y} fontSize={46} fontWeight={700} fontFamily={NARROW} fill="#000">
        {p.letter.text}
      </text>
    </g>
  );
}

export default function App() {
  return (
    <div style={{ position: "absolute", left: 0, top: 0, width: 1728, height: 907, background: "#fff", overflow: "hidden", fontFamily: SANS }}>
      <svg width={1728} height={907} style={{ position: "absolute", left: 0, top: 0 }}>
        <path d="M37 907 V62 H803 V907" fill="none" stroke="#dcdcdc" strokeWidth={1.2} />
        <path d="M858 907 V17 H1728" fill="none" stroke="#c8c8c8" strokeWidth={1.2} />
        {panels.map((p) => (
          <Underlay key={p.id} p={p} />
        ))}
      </svg>
      {panels.map((p) => (
        <React.Fragment key={p.id}>
          <MainPlot p={p} />
          <TopStrip p={p} />
          <SideStrip p={p} />
        </React.Fragment>
      ))}
      <svg width={1728} height={907} style={{ position: "absolute", left: 0, top: 0, pointerEvents: "none" }}>
        {panels.map((p) => (
          <Overlay key={p.id} p={p} />
        ))}
      </svg>
    </div>
  );
}
